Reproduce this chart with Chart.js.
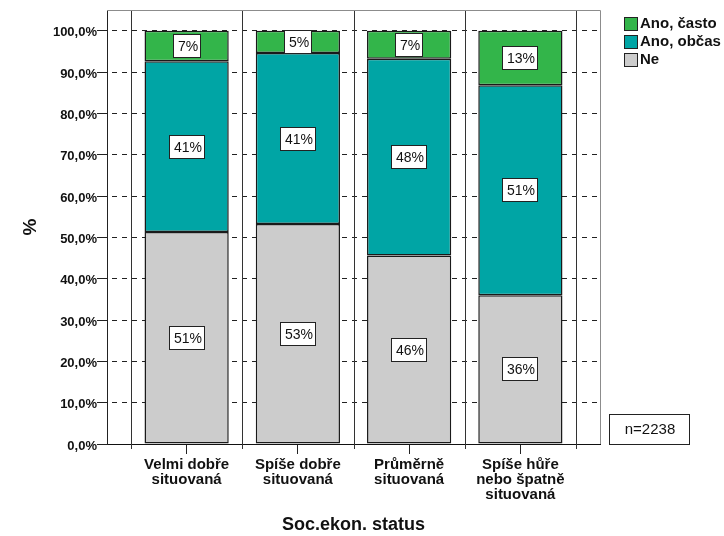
<!DOCTYPE html>
<html>
<head>
<meta charset="utf-8">
<script src="https://cdn.jsdelivr.net/npm/chart.js@4"></script>
<style>
    body { margin: 0; background: #fff; }
    #wrap { width: 724px; height: 536px; }
</style>
</head>
<body>
<div id="wrap"><canvas id="chart" width="724" height="536"></canvas></div>
<script>
// Data
const CATEGORIES = [
    ['Velmi dobře', 'situovaná'],
    ['Spíše dobře', 'situovaná'],
    ['Průměrně', 'situovaná'],
    ['Spíše hůře', 'nebo špatně', 'situovaná']
];
const NE = [51.3, 53.2, 45.6, 36.0];
const ANO_OBCAS = [41.3, 41.4, 47.6, 50.8];
const ANO_CASTO = [7.4, 5.4, 6.8, 13.2];
const SERIES_NAMES = ['Ne', 'Ano, občas', 'Ano, často'];
const Y_TICKS = [0, 10, 20, 30, 40, 50, 60, 70, 80, 90, 100];
const N_TEXT = 'n=2238';

// Colors
const COLORS = ['#cccccc', '#00a5a5', '#33b54a'];
const FONT = '"Liberation Sans", Arial, sans-serif';

Chart.defaults.font.family = FONT;
Chart.defaults.color = '#111';

function toPoints(values) {
    return values.map((v, i) => ({ x: i, y: v }));
}

/**
 * Category separators and plot frame
 */
const framePlugin = {
    id: 'frame',
    beforeDatasetsDraw(chart) {
        const { ctx, chartArea, scales } = chart;
        ctx.save();
        ctx.lineWidth = 1;
        ctx.strokeStyle = '#333';
        for (let i = 0; i <= CATEGORIES.length; i++) {
            const x = Math.round(scales.x.getPixelForValue(i - 0.5)) + 0.5;
            ctx.beginPath();
            ctx.moveTo(x, chartArea.top);
            ctx.lineTo(x, chartArea.bottom + 5);
            ctx.stroke();
        }
        ctx.strokeStyle = '#8c8c8c';
        ctx.beginPath();
        ctx.moveTo(chartArea.left, chartArea.top + 0.5);
        ctx.lineTo(chartArea.right + 0.5, chartArea.top + 0.5);
        ctx.lineTo(chartArea.right + 0.5, chartArea.bottom);
        ctx.stroke();
        ctx.restore();
    }
};

/**
 * Percent labels in white boxes, legend and n box
 */
const labelsPlugin = {
    id: 'labels',
    afterDraw(chart) {
        const { ctx } = chart;
        ctx.save();
        ctx.font = '14px ' + FONT;
        ctx.textAlign = 'center';
        ctx.textBaseline = 'middle';
        chart.data.datasets.forEach((ds, di) => {
            const meta = chart.getDatasetMeta(di);
            meta.data.forEach((bar, i) => {
                const text = Math.round(ds.data[i].y) + '%';
                const w = Math.ceil(ctx.measureText(text).width) + 6;
                const h = 23;
                const cx = Math.round(bar.x);
                const cy = Math.round((bar.y + bar.base) / 2);
                const bx = cx - Math.round(w / 2);
                const by = cy - Math.round(h / 2);
                ctx.fillStyle = '#fff';
                ctx.fillRect(bx, by, w, h);
                ctx.strokeStyle = '#222';
                ctx.lineWidth = 1;
                ctx.strokeRect(bx + 0.5, by + 0.5, w, h);
                ctx.fillStyle = '#111';
                ctx.fillText(text, cx + 1, cy + 1);
            });
        });

        // Legend (top-down: last dataset first)
        ctx.font = 'bold 15px ' + FONT;
        ctx.textAlign = 'left';
        for (let k = 0; k < SERIES_NAMES.length; k++) {
            const di = SERIES_NAMES.length - 1 - k;
            const y = 17 + k * 18;
            ctx.fillStyle = COLORS[di];
            ctx.fillRect(624, y, 13, 13);
            ctx.strokeStyle = '#222';
            ctx.strokeRect(624.5, y + 0.5, 13, 13);
            ctx.fillStyle = '#111';
            ctx.fillText(SERIES_NAMES[di], 640, y + 7);
        }

        // n box
        ctx.strokeStyle = '#222';
        ctx.strokeRect(609.5, 414.5, 80, 30);
        ctx.font = '15px ' + FONT;
        ctx.textAlign = 'center';
        ctx.fillText(N_TEXT, 650, 430);
        ctx.restore();
    }
};

const datasets = [NE, ANO_OBCAS, ANO_CASTO].map((vals, i) => ({
    label: SERIES_NAMES[i],
    data: toPoints(vals),
    backgroundColor: COLORS[i],
    borderColor: '#1a1a1a',
    borderWidth: 1.5,
    borderSkipped: false,
    barPercentage: 0.757,
    categoryPercentage: 1.0
}));

new Chart(document.getElementById('chart'), {
    type: 'bar',
    data: { datasets },
    options: {
        responsive: false,
        animation: false,
        events: [],
        layout: { padding: { top: 10, right: 124, bottom: 0, left: 0 } },
        plugins: {
            legend: { display: false },
            tooltip: { enabled: false }
        },
        scales: {
            x: {
                type: 'linear',
                stacked: true,
                offset: false,
                bounds: 'data',
                min: -0.7157,
                max: CATEGORIES.length - 1 + 0.7157,
                afterBuildTicks: axis => {
                    axis.ticks = CATEGORIES.map((c, i) => ({ value: i }));
                },
                afterFit: scale => { scale.height = 92; },
                ticks: {
                    autoSkip: false,
                    maxRotation: 0,
                    padding: 3,
                    font: { size: 15, weight: 'bold', lineHeight: 1.0 },
                    callback: value => CATEGORIES[value]
                },
                grid: {
                    offset: false,
                    drawOnChartArea: false,
                    drawTicks: true,
                    tickLength: 10,
                    color: '#222'
                },
                border: { display: true, color: '#111', width: 1 },
                title: {
                    display: true,
                    text: 'Soc.ekon. status',
                    font: { size: 18, weight: 'bold' },
                    color: '#111',
                    padding: { top: 0, bottom: 0 }
                }
            },
            y: {
                stacked: true,
                bounds: 'data',
                min: 0,
                max: 105,
                afterBuildTicks: axis => {
                    axis.ticks = Y_TICKS.map(v => ({ value: v }));
                },
                afterFit: scale => { scale.width = 107; },
                ticks: {
                    padding: 0,
                    labelOffset: 2,
                    font: { size: 13, weight: 'bold' },
                    callback: value => value.toFixed(1).replace('.', ',') + '%'
                },
                grid: {
                    color: '#222',
                    lineWidth: 1,
                    tickLength: 10,
                    tickColor: '#222'
                },
                border: { display: true, color: '#222', width: 1, dash: [5, 5], dashOffset: 6 },
                title: {
                    display: true,
                    text: '%',
                    font: { size: 19, weight: 'bold' },
                    color: '#111',
                    padding: { top: 19, bottom: 0 }
                }
            }
        }
    },
    plugins: [framePlugin, labelsPlugin]
});
</script>
</body>
</html>
